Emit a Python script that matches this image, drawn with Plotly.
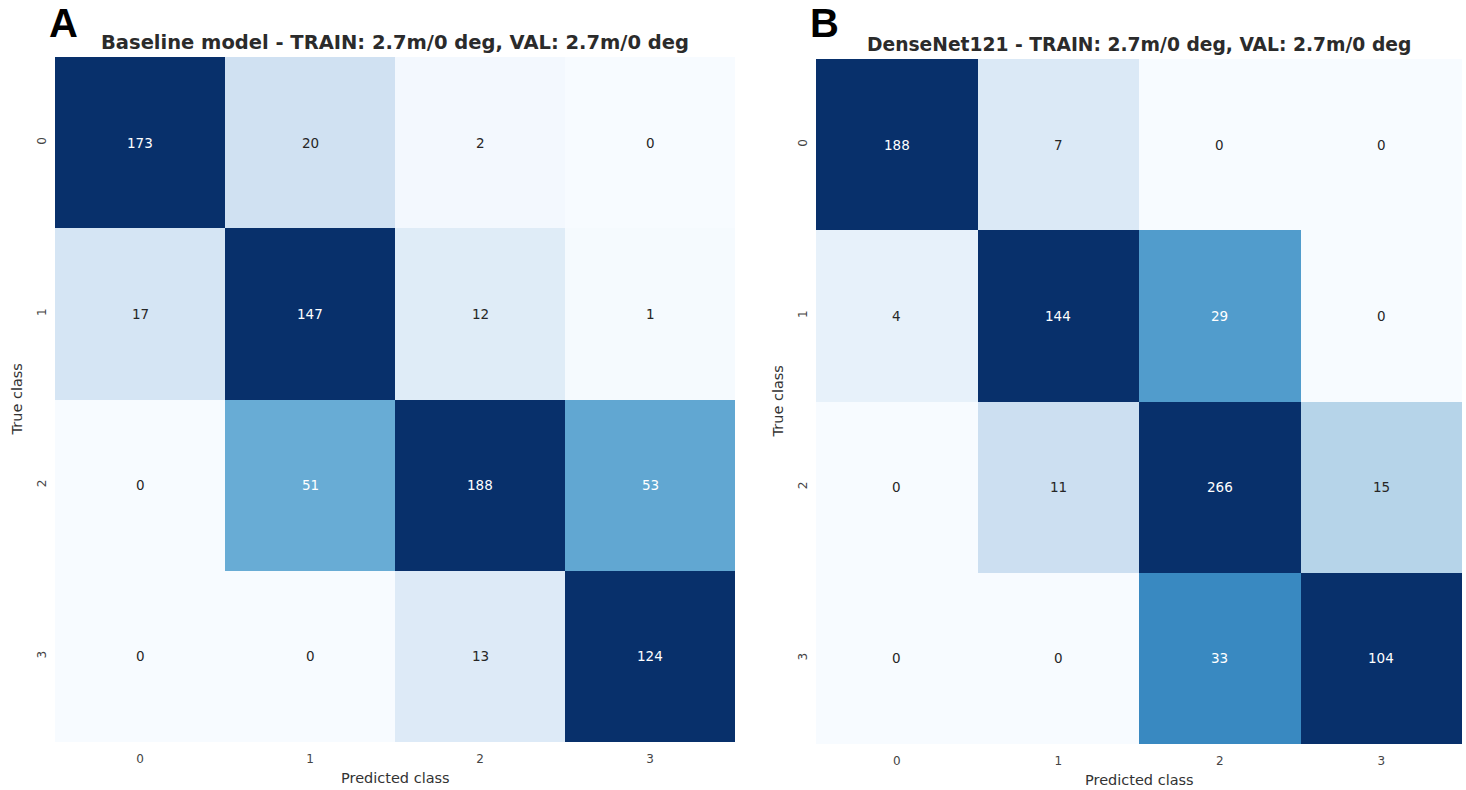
import plotly.graph_objects as go

# Confusion matrices (rows = true class, columns = predicted class)
classes = ["0", "1", "2", "3"]
baseline_cm = [
    [173, 20, 2, 0],
    [17, 147, 12, 1],
    [0, 51, 188, 53],
    [0, 0, 13, 124],
]
densenet_cm = [
    [188, 7, 0, 0],
    [4, 144, 29, 0],
    [0, 11, 266, 15],
    [0, 0, 33, 104],
]
titles = [
    "Baseline model - TRAIN: 2.7m/0 deg, VAL: 2.7m/0 deg",
    "DenseNet121 - TRAIN: 2.7m/0 deg, VAL: 2.7m/0 deg",
]
panel_letters = ["A", "B"]
color_max = [100, 50]

W, H = 1466, 790

# matplotlib "Blues" colour ramp
blues_hex = ["#f7fbff", "#deebf7", "#c6dbef", "#9ecae1", "#6baed6",
             "#4292c6", "#2171b5", "#08519c", "#08306b"]
blues_scale = [[i / (len(blues_hex) - 1), c] for i, c in enumerate(blues_hex)]


def hex_rgb(h):
    h = h.lstrip("#")
    return [int(h[i:i + 2], 16) / 255 for i in (0, 2, 4)]


def blues_at(t):
    t = min(max(t, 0.0), 1.0)
    pos = t * (len(blues_hex) - 1)
    i = min(int(pos), len(blues_hex) - 2)
    f = pos - i
    a, b = hex_rgb(blues_hex[i]), hex_rgb(blues_hex[i + 1])
    return [a[k] + (b[k] - a[k]) * f for k in range(3)]


def luminance(rgb):
    lin = [c / 12.92 if c <= 0.03928 else ((c + 0.055) / 1.055) ** 2.4 for c in rgb]
    return 0.2126 * lin[0] + 0.7152 * lin[1] + 0.0722 * lin[2]


# pixel boxes of the two heatmaps: (left, top, right, bottom)
boxes = [(55, 57, 735, 742), (816, 59, 1462, 744)]
title_sizes = [19.5, 18.7]

fig = go.Figure()
annotations = []
text_dark = "#262626"

for p, (cm, box) in enumerate(zip([baseline_cm, densenet_cm], boxes)):
    l, t, r, b = box
    xa = "x" if p == 0 else "x2"
    ya = "y" if p == 0 else "y2"
    fig.add_trace(go.Heatmap(
        z=cm, x=classes, y=classes,
        zmin=0, zmax=color_max[p],
        colorscale=blues_scale, showscale=False,
        xaxis=xa, yaxis=ya, hoverinfo="z",
    ))
    axis_common = dict(
        showgrid=False, zeroline=False, showline=False,
        ticks="", tickfont=dict(family="DejaVu Sans", size=12, color="#444444"),
    )
    xkey = "xaxis" if p == 0 else "xaxis2"
    ykey = "yaxis" if p == 0 else "yaxis2"
    fig.update_layout({
        xkey: dict(domain=[l / W, r / W], anchor=ya, ticklabelstandoff=8,
                   **axis_common),
        ykey: dict(domain=[1 - b / H, 1 - t / H], anchor=xa,
                   autorange="reversed", tickangle=-90, ticklabelstandoff=6,
                   **axis_common),
    })

    # cell value labels
    for i, row in enumerate(cm):
        for j, v in enumerate(row):
            lum = luminance(blues_at(v / color_max[p]))
            annotations.append(dict(
                x=classes[j], y=classes[i], xref=xa, yref=ya,
                text=str(v), showarrow=False,
                font=dict(family="DejaVu Sans", size=13.5,
                          color=text_dark if lum > 0.408 else "white"),
            ))

    cx = (l + r) / 2 / W
    # title
    annotations.append(dict(
        x=cx, y=1 - (t - 14) / H, xref="paper", yref="paper",
        text="<b>" + titles[p] + "</b>", showarrow=False,
        xanchor="center", yanchor="middle",
        font=dict(family="DejaVu Sans", size=title_sizes[p], color="#2b2b2b"),
    ))
    # panel letter
    annotations.append(dict(
        x=(l - 8) / W, y=1 - 23 / H, xref="paper", yref="paper",
        text="<b>" + panel_letters[p] + "</b>", showarrow=False,
        xanchor="left", yanchor="middle",
        font=dict(family="Liberation Sans", size=40, color="black"),
    ))
    # axis titles
    annotations.append(dict(
        x=cx, y=1 - (b + 36) / H, xref="paper", yref="paper",
        text="Predicted class", showarrow=False,
        xanchor="center", yanchor="middle",
        font=dict(family="DejaVu Sans", size=14.5, color="#333333"),
    ))
    annotations.append(dict(
        x=(l - 39) / W, y=1 - (t + b) / 2 / H, xref="paper", yref="paper",
        text="True class", showarrow=False, textangle=-90,
        xanchor="center", yanchor="middle",
        font=dict(family="DejaVu Sans", size=14.5, color="#333333"),
    ))

fig.update_layout(
    width=W, height=H,
    margin=dict(l=0, r=0, t=0, b=0),
    paper_bgcolor="white", plot_bgcolor="white",
    annotations=annotations,
    showlegend=False,
)

fig.write_html("out.html")
